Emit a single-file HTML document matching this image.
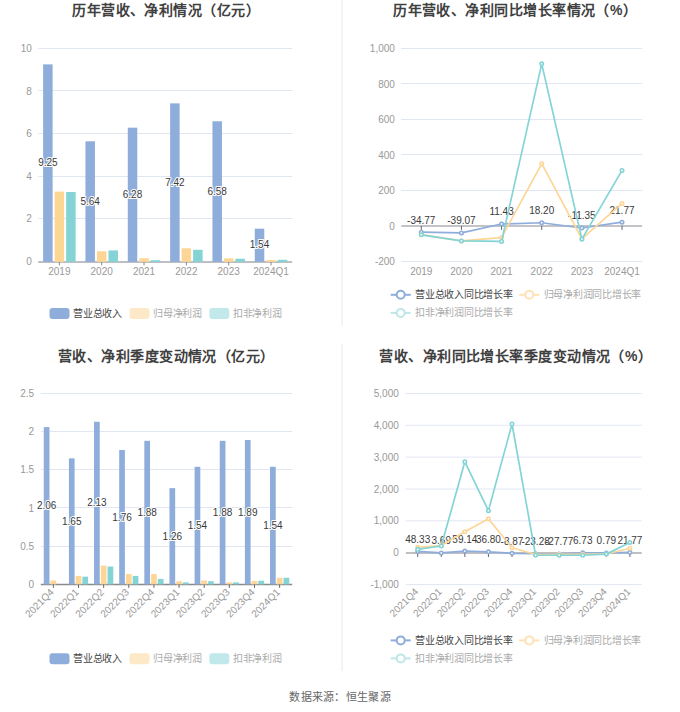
<!DOCTYPE html>
<html lang="zh-CN"><head><meta charset="utf-8"><title>chart</title>
<style>
html,body{margin:0;padding:0;background:#fff;}
body{width:680px;height:712px;overflow:hidden;font-family:"Liberation Sans", sans-serif;}
svg{display:block;font-family:"Liberation Sans", sans-serif;}
</style></head>
<body>
<svg width="680" height="712" viewBox="0 0 680 712">
<text x="166.10" y="15.40" font-size="14" fill="#404040" text-anchor="middle" font-weight="bold" letter-spacing="0.45">历年营收、净利情况（亿元）</text>
<text x="515.20" y="15.40" font-size="14" fill="#404040" text-anchor="middle" font-weight="bold" letter-spacing="0.45">历年营收、净利同比增长率情况（%）</text>
<text x="166.30" y="361.00" font-size="14" fill="#404040" text-anchor="middle" font-weight="bold" letter-spacing="0.45">营收、净利季度变动情况（亿元）</text>
<text x="515.80" y="361.00" font-size="14" fill="#404040" text-anchor="middle" font-weight="bold" letter-spacing="0.45">营收、净利同比增长率季度变动情况（%）</text>
<rect x="341" y="0" width="2" height="326" fill="#f4f4f4"/>
<rect x="341" y="344" width="2" height="327" fill="#f4f4f4"/>
<line x1="38.20" y1="48.50" x2="292.20" y2="48.50" stroke="#e1e6f3" stroke-width="1"/>
<line x1="38.20" y1="90.50" x2="292.20" y2="90.50" stroke="#e1e6f3" stroke-width="1"/>
<line x1="38.20" y1="133.50" x2="292.20" y2="133.50" stroke="#e1e6f3" stroke-width="1"/>
<line x1="38.20" y1="176.50" x2="292.20" y2="176.50" stroke="#e1e6f3" stroke-width="1"/>
<line x1="38.20" y1="218.50" x2="292.20" y2="218.50" stroke="#e1e6f3" stroke-width="1"/>
<text x="31.80" y="52.00" font-size="10" fill="#999999" text-anchor="end" font-weight="normal" >10</text>
<text x="31.80" y="94.60" font-size="10" fill="#999999" text-anchor="end" font-weight="normal" >8</text>
<text x="31.80" y="137.10" font-size="10" fill="#999999" text-anchor="end" font-weight="normal" >6</text>
<text x="31.80" y="179.70" font-size="10" fill="#999999" text-anchor="end" font-weight="normal" >4</text>
<text x="31.80" y="222.20" font-size="10" fill="#999999" text-anchor="end" font-weight="normal" >2</text>
<text x="31.80" y="264.80" font-size="10" fill="#999999" text-anchor="end" font-weight="normal" >0</text>
<line x1="38.20" y1="261.90" x2="292.20" y2="261.90" stroke="#bfbfc3" stroke-width="2"/>
<rect x="43.12" y="64.38" width="9.50" height="197.52" fill="#8eaddb"/>
<rect x="54.62" y="191.60" width="9.50" height="70.30" fill="#fdd696"/>
<rect x="66.12" y="192.03" width="9.50" height="69.87" fill="#84d4d6"/>
<rect x="85.45" y="141.31" width="9.50" height="120.59" fill="#8eaddb"/>
<rect x="96.95" y="251.27" width="9.50" height="10.63" fill="#fdd696"/>
<rect x="108.45" y="250.42" width="9.50" height="11.48" fill="#84d4d6"/>
<rect x="127.78" y="127.67" width="9.50" height="134.23" fill="#8eaddb"/>
<rect x="139.28" y="258.30" width="9.50" height="3.60" fill="#fdd696"/>
<rect x="150.78" y="260.22" width="9.50" height="1.68" fill="#84d4d6"/>
<rect x="170.12" y="103.38" width="9.50" height="158.52" fill="#8eaddb"/>
<rect x="181.62" y="248.29" width="9.50" height="13.61" fill="#fdd696"/>
<rect x="193.12" y="249.78" width="9.50" height="12.12" fill="#84d4d6"/>
<rect x="212.45" y="121.28" width="9.50" height="140.62" fill="#8eaddb"/>
<rect x="223.95" y="258.30" width="9.50" height="3.60" fill="#fdd696"/>
<rect x="235.45" y="258.73" width="9.50" height="3.17" fill="#84d4d6"/>
<rect x="254.78" y="228.68" width="9.50" height="33.22" fill="#8eaddb"/>
<rect x="266.28" y="260.01" width="9.50" height="1.89" fill="#fdd696"/>
<rect x="277.78" y="259.80" width="9.50" height="2.10" fill="#84d4d6"/>
<line x1="59.37" y1="261.90" x2="59.37" y2="265.40" stroke="#8a8a8a" stroke-width="1"/>
<line x1="101.70" y1="261.90" x2="101.70" y2="265.40" stroke="#8a8a8a" stroke-width="1"/>
<line x1="144.03" y1="261.90" x2="144.03" y2="265.40" stroke="#8a8a8a" stroke-width="1"/>
<line x1="186.37" y1="261.90" x2="186.37" y2="265.40" stroke="#8a8a8a" stroke-width="1"/>
<line x1="228.70" y1="261.90" x2="228.70" y2="265.40" stroke="#8a8a8a" stroke-width="1"/>
<line x1="271.03" y1="261.90" x2="271.03" y2="265.40" stroke="#8a8a8a" stroke-width="1"/>
<text x="47.87" y="166.34" font-size="10" fill="#3a3a3a" text-anchor="middle" stroke="#fff" stroke-width="2" paint-order="stroke" stroke-linejoin="round">9.25</text>
<text x="90.20" y="204.81" font-size="10" fill="#3a3a3a" text-anchor="middle" stroke="#fff" stroke-width="2" paint-order="stroke" stroke-linejoin="round">5.64</text>
<text x="132.53" y="197.99" font-size="10" fill="#3a3a3a" text-anchor="middle" stroke="#fff" stroke-width="2" paint-order="stroke" stroke-linejoin="round">6.28</text>
<text x="174.87" y="185.84" font-size="10" fill="#3a3a3a" text-anchor="middle" stroke="#fff" stroke-width="2" paint-order="stroke" stroke-linejoin="round">7.42</text>
<text x="217.20" y="194.79" font-size="10" fill="#3a3a3a" text-anchor="middle" stroke="#fff" stroke-width="2" paint-order="stroke" stroke-linejoin="round">6.58</text>
<text x="259.53" y="248.49" font-size="10" fill="#3a3a3a" text-anchor="middle" stroke="#fff" stroke-width="2" paint-order="stroke" stroke-linejoin="round">1.54</text>
<text x="59.37" y="275.00" font-size="10" fill="#999999" text-anchor="middle" font-weight="normal" >2019</text>
<text x="101.70" y="275.00" font-size="10" fill="#999999" text-anchor="middle" font-weight="normal" >2020</text>
<text x="144.03" y="275.00" font-size="10" fill="#999999" text-anchor="middle" font-weight="normal" >2021</text>
<text x="186.37" y="275.00" font-size="10" fill="#999999" text-anchor="middle" font-weight="normal" >2022</text>
<text x="228.70" y="275.00" font-size="10" fill="#999999" text-anchor="middle" font-weight="normal" >2023</text>
<text x="271.03" y="275.00" font-size="10" fill="#999999" text-anchor="middle" font-weight="normal" >2024Q1</text>
<line x1="401.20" y1="48.50" x2="642.10" y2="48.50" stroke="#e1e6f3" stroke-width="1"/>
<line x1="401.20" y1="83.50" x2="642.10" y2="83.50" stroke="#e1e6f3" stroke-width="1"/>
<line x1="401.20" y1="119.50" x2="642.10" y2="119.50" stroke="#e1e6f3" stroke-width="1"/>
<line x1="401.20" y1="154.50" x2="642.10" y2="154.50" stroke="#e1e6f3" stroke-width="1"/>
<line x1="401.20" y1="190.50" x2="642.10" y2="190.50" stroke="#e1e6f3" stroke-width="1"/>
<line x1="401.20" y1="261.50" x2="642.10" y2="261.50" stroke="#e1e6f3" stroke-width="1"/>
<text x="394.90" y="52.00" font-size="10" fill="#999999" text-anchor="end" font-weight="normal" >1,000</text>
<text x="394.90" y="87.50" font-size="10" fill="#999999" text-anchor="end" font-weight="normal" >800</text>
<text x="394.90" y="123.00" font-size="10" fill="#999999" text-anchor="end" font-weight="normal" >600</text>
<text x="394.90" y="158.50" font-size="10" fill="#999999" text-anchor="end" font-weight="normal" >400</text>
<text x="394.90" y="194.10" font-size="10" fill="#999999" text-anchor="end" font-weight="normal" >200</text>
<text x="394.90" y="229.60" font-size="10" fill="#999999" text-anchor="end" font-weight="normal" >0</text>
<text x="394.90" y="265.20" font-size="10" fill="#999999" text-anchor="end" font-weight="normal" >-200</text>
<line x1="401.20" y1="225.90" x2="642.10" y2="225.90" stroke="#c3c3c8" stroke-width="2"/>
<line x1="421.27" y1="225.90" x2="421.27" y2="229.90" stroke="#666" stroke-width="1"/>
<line x1="461.43" y1="225.90" x2="461.43" y2="229.90" stroke="#666" stroke-width="1"/>
<line x1="501.57" y1="225.90" x2="501.57" y2="229.90" stroke="#666" stroke-width="1"/>
<line x1="541.73" y1="225.90" x2="541.73" y2="229.90" stroke="#666" stroke-width="1"/>
<line x1="581.88" y1="225.90" x2="581.88" y2="229.90" stroke="#666" stroke-width="1"/>
<line x1="622.03" y1="225.90" x2="622.03" y2="229.90" stroke="#666" stroke-width="1"/>
<polyline points="421.27,232.18 461.43,232.94 501.57,223.97 541.73,222.77 581.88,228.02 622.03,222.13" fill="none" stroke="#8eaddb" stroke-width="1.7" stroke-linejoin="round"/>
<circle cx="421.27" cy="232.18" r="1.7" fill="#fff" stroke="#8eaddb" stroke-width="1.6"/>
<circle cx="461.43" cy="232.94" r="1.7" fill="#fff" stroke="#8eaddb" stroke-width="1.6"/>
<circle cx="501.57" cy="223.97" r="1.7" fill="#fff" stroke="#8eaddb" stroke-width="1.6"/>
<circle cx="541.73" cy="222.77" r="1.7" fill="#fff" stroke="#8eaddb" stroke-width="1.6"/>
<circle cx="581.88" cy="228.02" r="1.7" fill="#fff" stroke="#8eaddb" stroke-width="1.6"/>
<circle cx="622.03" cy="222.13" r="1.7" fill="#fff" stroke="#8eaddb" stroke-width="1.6"/>
<text x="421.27" y="223.58" font-size="10" fill="#3a3a3a" text-anchor="middle">-34.77</text>
<text x="461.43" y="224.34" font-size="10" fill="#3a3a3a" text-anchor="middle">-39.07</text>
<text x="501.57" y="215.37" font-size="10" fill="#3a3a3a" text-anchor="middle">11.43</text>
<text x="541.73" y="214.17" font-size="10" fill="#3a3a3a" text-anchor="middle">18.20</text>
<text x="581.88" y="219.42" font-size="10" fill="#3a3a3a" text-anchor="middle">-11.35</text>
<text x="622.03" y="213.53" font-size="10" fill="#3a3a3a" text-anchor="middle">21.77</text>
<polyline points="421.27,234.70 461.43,240.92 501.57,237.54 541.73,163.66 581.88,238.79 622.03,203.44" fill="none" stroke="#fdd696" stroke-width="1.7" stroke-linejoin="round"/>
<circle cx="421.27" cy="234.70" r="1.7" fill="#fff" stroke="#fdd696" stroke-width="1.6"/>
<circle cx="461.43" cy="240.92" r="1.7" fill="#fff" stroke="#fdd696" stroke-width="1.6"/>
<circle cx="501.57" cy="237.54" r="1.7" fill="#fff" stroke="#fdd696" stroke-width="1.6"/>
<circle cx="541.73" cy="163.66" r="1.7" fill="#fff" stroke="#fdd696" stroke-width="1.6"/>
<circle cx="581.88" cy="238.79" r="1.7" fill="#fff" stroke="#fdd696" stroke-width="1.6"/>
<circle cx="622.03" cy="203.44" r="1.7" fill="#fff" stroke="#fdd696" stroke-width="1.6"/>
<polyline points="421.27,234.79 461.43,240.92 501.57,241.45 541.73,63.85 581.88,239.14 622.03,170.41" fill="none" stroke="#84d4d6" stroke-width="1.7" stroke-linejoin="round"/>
<circle cx="421.27" cy="234.79" r="1.7" fill="#fff" stroke="#84d4d6" stroke-width="1.6"/>
<circle cx="461.43" cy="240.92" r="1.7" fill="#fff" stroke="#84d4d6" stroke-width="1.6"/>
<circle cx="501.57" cy="241.45" r="1.7" fill="#fff" stroke="#84d4d6" stroke-width="1.6"/>
<circle cx="541.73" cy="63.85" r="1.7" fill="#fff" stroke="#84d4d6" stroke-width="1.6"/>
<circle cx="581.88" cy="239.14" r="1.7" fill="#fff" stroke="#84d4d6" stroke-width="1.6"/>
<circle cx="622.03" cy="170.41" r="1.7" fill="#fff" stroke="#84d4d6" stroke-width="1.6"/>
<text x="421.27" y="274.90" font-size="10" fill="#999999" text-anchor="middle" font-weight="normal" >2019</text>
<text x="461.43" y="274.90" font-size="10" fill="#999999" text-anchor="middle" font-weight="normal" >2020</text>
<text x="501.57" y="274.90" font-size="10" fill="#999999" text-anchor="middle" font-weight="normal" >2021</text>
<text x="541.73" y="274.90" font-size="10" fill="#999999" text-anchor="middle" font-weight="normal" >2022</text>
<text x="581.88" y="274.90" font-size="10" fill="#999999" text-anchor="middle" font-weight="normal" >2023</text>
<text x="622.03" y="274.90" font-size="10" fill="#999999" text-anchor="middle" font-weight="normal" >2024Q1</text>
<line x1="40.80" y1="393.50" x2="292.20" y2="393.50" stroke="#e1e6f3" stroke-width="1"/>
<line x1="40.80" y1="431.50" x2="292.20" y2="431.50" stroke="#e1e6f3" stroke-width="1"/>
<line x1="40.80" y1="469.50" x2="292.20" y2="469.50" stroke="#e1e6f3" stroke-width="1"/>
<line x1="40.80" y1="507.50" x2="292.20" y2="507.50" stroke="#e1e6f3" stroke-width="1"/>
<line x1="40.80" y1="546.50" x2="292.20" y2="546.50" stroke="#e1e6f3" stroke-width="1"/>
<text x="34.10" y="397.10" font-size="10" fill="#999999" text-anchor="end" font-weight="normal" >2.5</text>
<text x="34.10" y="435.20" font-size="10" fill="#999999" text-anchor="end" font-weight="normal" >2</text>
<text x="34.10" y="473.30" font-size="10" fill="#999999" text-anchor="end" font-weight="normal" >1.5</text>
<text x="34.10" y="511.50" font-size="10" fill="#999999" text-anchor="end" font-weight="normal" >1</text>
<text x="34.10" y="549.70" font-size="10" fill="#999999" text-anchor="end" font-weight="normal" >0.5</text>
<text x="34.10" y="587.90" font-size="10" fill="#999999" text-anchor="end" font-weight="normal" >0</text>
<line x1="40.80" y1="584.40" x2="292.20" y2="584.40" stroke="#8a8a8a" stroke-width="1.5"/>
<rect x="43.77" y="427.08" width="5.70" height="157.32" fill="#8eaddb"/>
<rect x="50.52" y="580.48" width="5.70" height="3.92" fill="#fdd696"/>
<rect x="68.91" y="458.37" width="5.70" height="126.03" fill="#8eaddb"/>
<rect x="75.66" y="575.90" width="5.70" height="8.50" fill="#fdd696"/>
<rect x="82.41" y="576.67" width="5.70" height="7.73" fill="#84d4d6"/>
<rect x="94.05" y="421.74" width="5.70" height="162.66" fill="#8eaddb"/>
<rect x="100.80" y="565.60" width="5.70" height="18.80" fill="#fdd696"/>
<rect x="107.55" y="566.52" width="5.70" height="17.88" fill="#84d4d6"/>
<rect x="119.19" y="449.98" width="5.70" height="134.42" fill="#8eaddb"/>
<rect x="125.94" y="574.07" width="5.70" height="10.33" fill="#fdd696"/>
<rect x="132.69" y="575.90" width="5.70" height="8.50" fill="#84d4d6"/>
<rect x="144.33" y="440.82" width="5.70" height="143.58" fill="#8eaddb"/>
<rect x="151.08" y="574.07" width="5.70" height="10.33" fill="#fdd696"/>
<rect x="157.83" y="578.88" width="5.70" height="5.52" fill="#84d4d6"/>
<rect x="169.47" y="488.14" width="5.70" height="96.26" fill="#8eaddb"/>
<rect x="176.22" y="581.25" width="5.70" height="3.15" fill="#fdd696"/>
<rect x="182.97" y="582.39" width="5.70" height="2.01" fill="#84d4d6"/>
<rect x="194.61" y="466.77" width="5.70" height="117.63" fill="#8eaddb"/>
<rect x="201.36" y="580.48" width="5.70" height="3.92" fill="#fdd696"/>
<rect x="208.11" y="581.25" width="5.70" height="3.15" fill="#84d4d6"/>
<rect x="219.75" y="440.82" width="5.70" height="143.58" fill="#8eaddb"/>
<rect x="226.50" y="582.39" width="5.70" height="2.01" fill="#fdd696"/>
<rect x="233.25" y="582.39" width="5.70" height="2.01" fill="#84d4d6"/>
<rect x="244.89" y="440.06" width="5.70" height="144.34" fill="#8eaddb"/>
<rect x="251.64" y="580.94" width="5.70" height="3.46" fill="#fdd696"/>
<rect x="258.39" y="580.71" width="5.70" height="3.69" fill="#84d4d6"/>
<rect x="270.03" y="466.77" width="5.70" height="117.63" fill="#8eaddb"/>
<rect x="276.78" y="577.81" width="5.70" height="6.59" fill="#fdd696"/>
<rect x="283.53" y="577.81" width="5.70" height="6.59" fill="#84d4d6"/>
<line x1="53.37" y1="584.40" x2="53.37" y2="587.90" stroke="#666" stroke-width="1"/>
<line x1="78.51" y1="584.40" x2="78.51" y2="587.90" stroke="#666" stroke-width="1"/>
<line x1="103.65" y1="584.40" x2="103.65" y2="587.90" stroke="#666" stroke-width="1"/>
<line x1="128.79" y1="584.40" x2="128.79" y2="587.90" stroke="#666" stroke-width="1"/>
<line x1="153.93" y1="584.40" x2="153.93" y2="587.90" stroke="#666" stroke-width="1"/>
<line x1="179.07" y1="584.40" x2="179.07" y2="587.90" stroke="#666" stroke-width="1"/>
<line x1="204.21" y1="584.40" x2="204.21" y2="587.90" stroke="#666" stroke-width="1"/>
<line x1="229.35" y1="584.40" x2="229.35" y2="587.90" stroke="#666" stroke-width="1"/>
<line x1="254.49" y1="584.40" x2="254.49" y2="587.90" stroke="#666" stroke-width="1"/>
<line x1="279.63" y1="584.40" x2="279.63" y2="587.90" stroke="#666" stroke-width="1"/>
<text x="46.62" y="509.09" font-size="10" fill="#3a3a3a" text-anchor="middle" stroke="#fff" stroke-width="2" paint-order="stroke" stroke-linejoin="round">2.06</text>
<text x="71.76" y="524.74" font-size="10" fill="#3a3a3a" text-anchor="middle" stroke="#fff" stroke-width="2" paint-order="stroke" stroke-linejoin="round">1.65</text>
<text x="96.90" y="506.42" font-size="10" fill="#3a3a3a" text-anchor="middle" stroke="#fff" stroke-width="2" paint-order="stroke" stroke-linejoin="round">2.13</text>
<text x="122.04" y="520.54" font-size="10" fill="#3a3a3a" text-anchor="middle" stroke="#fff" stroke-width="2" paint-order="stroke" stroke-linejoin="round">1.76</text>
<text x="147.18" y="515.96" font-size="10" fill="#3a3a3a" text-anchor="middle" stroke="#fff" stroke-width="2" paint-order="stroke" stroke-linejoin="round">1.88</text>
<text x="172.32" y="539.62" font-size="10" fill="#3a3a3a" text-anchor="middle" stroke="#fff" stroke-width="2" paint-order="stroke" stroke-linejoin="round">1.26</text>
<text x="197.46" y="528.93" font-size="10" fill="#3a3a3a" text-anchor="middle" stroke="#fff" stroke-width="2" paint-order="stroke" stroke-linejoin="round">1.54</text>
<text x="222.60" y="515.96" font-size="10" fill="#3a3a3a" text-anchor="middle" stroke="#fff" stroke-width="2" paint-order="stroke" stroke-linejoin="round">1.88</text>
<text x="247.74" y="515.58" font-size="10" fill="#3a3a3a" text-anchor="middle" stroke="#fff" stroke-width="2" paint-order="stroke" stroke-linejoin="round">1.89</text>
<text x="272.88" y="528.93" font-size="10" fill="#3a3a3a" text-anchor="middle" stroke="#fff" stroke-width="2" paint-order="stroke" stroke-linejoin="round">1.54</text>
<text x="0" y="0" font-size="10" fill="#999999" text-anchor="end" transform="translate(54.37,592.90) rotate(-45)">2021Q4</text>
<text x="0" y="0" font-size="10" fill="#999999" text-anchor="end" transform="translate(79.51,592.90) rotate(-45)">2022Q1</text>
<text x="0" y="0" font-size="10" fill="#999999" text-anchor="end" transform="translate(104.65,592.90) rotate(-45)">2022Q2</text>
<text x="0" y="0" font-size="10" fill="#999999" text-anchor="end" transform="translate(129.79,592.90) rotate(-45)">2022Q3</text>
<text x="0" y="0" font-size="10" fill="#999999" text-anchor="end" transform="translate(154.93,592.90) rotate(-45)">2022Q4</text>
<text x="0" y="0" font-size="10" fill="#999999" text-anchor="end" transform="translate(180.07,592.90) rotate(-45)">2023Q1</text>
<text x="0" y="0" font-size="10" fill="#999999" text-anchor="end" transform="translate(205.21,592.90) rotate(-45)">2023Q2</text>
<text x="0" y="0" font-size="10" fill="#999999" text-anchor="end" transform="translate(230.35,592.90) rotate(-45)">2023Q3</text>
<text x="0" y="0" font-size="10" fill="#999999" text-anchor="end" transform="translate(255.49,592.90) rotate(-45)">2023Q4</text>
<text x="0" y="0" font-size="10" fill="#999999" text-anchor="end" transform="translate(280.63,592.90) rotate(-45)">2024Q1</text>
<line x1="405.90" y1="393.50" x2="641.70" y2="393.50" stroke="#e1e6f3" stroke-width="1"/>
<line x1="405.90" y1="425.30" x2="641.70" y2="425.30" stroke="#e1e6f3" stroke-width="1"/>
<line x1="405.90" y1="457.10" x2="641.70" y2="457.10" stroke="#e1e6f3" stroke-width="1"/>
<line x1="405.90" y1="489.00" x2="641.70" y2="489.00" stroke="#e1e6f3" stroke-width="1"/>
<line x1="405.90" y1="520.80" x2="641.70" y2="520.80" stroke="#e1e6f3" stroke-width="1"/>
<line x1="405.90" y1="584.60" x2="641.70" y2="584.60" stroke="#e1e6f3" stroke-width="1"/>
<text x="398.80" y="397.10" font-size="10" fill="#999999" text-anchor="end" font-weight="normal" >5,000</text>
<text x="398.80" y="428.90" font-size="10" fill="#999999" text-anchor="end" font-weight="normal" >4,000</text>
<text x="398.80" y="460.70" font-size="10" fill="#999999" text-anchor="end" font-weight="normal" >3,000</text>
<text x="398.80" y="492.60" font-size="10" fill="#999999" text-anchor="end" font-weight="normal" >2,000</text>
<text x="398.80" y="524.40" font-size="10" fill="#999999" text-anchor="end" font-weight="normal" >1,000</text>
<text x="398.80" y="556.40" font-size="10" fill="#999999" text-anchor="end" font-weight="normal" >0</text>
<text x="398.80" y="588.20" font-size="10" fill="#999999" text-anchor="end" font-weight="normal" >-1,000</text>
<line x1="405.90" y1="553.00" x2="641.70" y2="553.00" stroke="#aaaaae" stroke-width="1.6"/>
<line x1="417.69" y1="553.00" x2="417.69" y2="557.00" stroke="#666" stroke-width="1"/>
<line x1="441.27" y1="553.00" x2="441.27" y2="557.00" stroke="#666" stroke-width="1"/>
<line x1="464.85" y1="553.00" x2="464.85" y2="557.00" stroke="#666" stroke-width="1"/>
<line x1="488.43" y1="553.00" x2="488.43" y2="557.00" stroke="#666" stroke-width="1"/>
<line x1="512.01" y1="553.00" x2="512.01" y2="557.00" stroke="#666" stroke-width="1"/>
<line x1="535.59" y1="553.00" x2="535.59" y2="557.00" stroke="#666" stroke-width="1"/>
<line x1="559.17" y1="553.00" x2="559.17" y2="557.00" stroke="#666" stroke-width="1"/>
<line x1="582.75" y1="553.00" x2="582.75" y2="557.00" stroke="#666" stroke-width="1"/>
<line x1="606.33" y1="553.00" x2="606.33" y2="557.00" stroke="#666" stroke-width="1"/>
<line x1="629.91" y1="553.00" x2="629.91" y2="557.00" stroke="#666" stroke-width="1"/>
<polyline points="417.69,551.46 441.27,552.88 464.85,551.11 488.43,551.83 512.01,553.28 535.59,553.74 559.17,553.89 582.75,552.79 606.33,552.97 629.91,552.31" fill="none" stroke="#8eaddb" stroke-width="1.7" stroke-linejoin="round"/>
<circle cx="417.69" cy="551.46" r="1.7" fill="#fff" stroke="#8eaddb" stroke-width="1.6"/>
<circle cx="441.27" cy="552.88" r="1.7" fill="#fff" stroke="#8eaddb" stroke-width="1.6"/>
<circle cx="464.85" cy="551.11" r="1.7" fill="#fff" stroke="#8eaddb" stroke-width="1.6"/>
<circle cx="488.43" cy="551.83" r="1.7" fill="#fff" stroke="#8eaddb" stroke-width="1.6"/>
<circle cx="512.01" cy="553.28" r="1.7" fill="#fff" stroke="#8eaddb" stroke-width="1.6"/>
<circle cx="535.59" cy="553.74" r="1.7" fill="#fff" stroke="#8eaddb" stroke-width="1.6"/>
<circle cx="559.17" cy="553.89" r="1.7" fill="#fff" stroke="#8eaddb" stroke-width="1.6"/>
<circle cx="582.75" cy="552.79" r="1.7" fill="#fff" stroke="#8eaddb" stroke-width="1.6"/>
<circle cx="606.33" cy="552.97" r="1.7" fill="#fff" stroke="#8eaddb" stroke-width="1.6"/>
<circle cx="629.91" cy="552.31" r="1.7" fill="#fff" stroke="#8eaddb" stroke-width="1.6"/>
<text x="417.69" y="542.86" font-size="10" fill="#3a3a3a" text-anchor="middle">48.33</text>
<text x="441.27" y="544.28" font-size="10" fill="#3a3a3a" text-anchor="middle">3.69</text>
<text x="464.85" y="542.51" font-size="10" fill="#3a3a3a" text-anchor="middle">59.14</text>
<text x="488.43" y="543.23" font-size="10" fill="#3a3a3a" text-anchor="middle">36.80</text>
<text x="512.01" y="544.68" font-size="10" fill="#3a3a3a" text-anchor="middle">-8.87</text>
<text x="535.59" y="545.14" font-size="10" fill="#3a3a3a" text-anchor="middle">-23.28</text>
<text x="559.17" y="545.29" font-size="10" fill="#3a3a3a" text-anchor="middle">-27.77</text>
<text x="582.75" y="544.19" font-size="10" fill="#3a3a3a" text-anchor="middle">6.73</text>
<text x="606.33" y="544.37" font-size="10" fill="#3a3a3a" text-anchor="middle">0.79</text>
<text x="629.91" y="543.71" font-size="10" fill="#3a3a3a" text-anchor="middle">21.77</text>
<polyline points="417.69,547.32 441.27,545.60 464.85,531.79 488.43,518.84 512.01,547.70 535.59,554.50 559.17,554.28 582.75,554.28 606.33,553.96 629.91,548.22" fill="none" stroke="#fdd696" stroke-width="1.7" stroke-linejoin="round"/>
<circle cx="417.69" cy="547.32" r="1.7" fill="#fff" stroke="#fdd696" stroke-width="1.6"/>
<circle cx="441.27" cy="545.60" r="1.7" fill="#fff" stroke="#fdd696" stroke-width="1.6"/>
<circle cx="464.85" cy="531.79" r="1.7" fill="#fff" stroke="#fdd696" stroke-width="1.6"/>
<circle cx="488.43" cy="518.84" r="1.7" fill="#fff" stroke="#fdd696" stroke-width="1.6"/>
<circle cx="512.01" cy="547.70" r="1.7" fill="#fff" stroke="#fdd696" stroke-width="1.6"/>
<circle cx="535.59" cy="554.50" r="1.7" fill="#fff" stroke="#fdd696" stroke-width="1.6"/>
<circle cx="559.17" cy="554.28" r="1.7" fill="#fff" stroke="#fdd696" stroke-width="1.6"/>
<circle cx="582.75" cy="554.28" r="1.7" fill="#fff" stroke="#fdd696" stroke-width="1.6"/>
<circle cx="606.33" cy="553.96" r="1.7" fill="#fff" stroke="#fdd696" stroke-width="1.6"/>
<circle cx="629.91" cy="548.22" r="1.7" fill="#fff" stroke="#fdd696" stroke-width="1.6"/>
<polyline points="417.69,549.33 441.27,545.98 464.85,461.77 488.43,510.64 512.01,424.00 535.59,555.23 559.17,555.23 582.75,555.23 606.33,554.12 629.91,542.47" fill="none" stroke="#84d4d6" stroke-width="1.7" stroke-linejoin="round"/>
<circle cx="417.69" cy="549.33" r="1.7" fill="#fff" stroke="#84d4d6" stroke-width="1.6"/>
<circle cx="441.27" cy="545.98" r="1.7" fill="#fff" stroke="#84d4d6" stroke-width="1.6"/>
<circle cx="464.85" cy="461.77" r="1.7" fill="#fff" stroke="#84d4d6" stroke-width="1.6"/>
<circle cx="488.43" cy="510.64" r="1.7" fill="#fff" stroke="#84d4d6" stroke-width="1.6"/>
<circle cx="512.01" cy="424.00" r="1.7" fill="#fff" stroke="#84d4d6" stroke-width="1.6"/>
<circle cx="535.59" cy="555.23" r="1.7" fill="#fff" stroke="#84d4d6" stroke-width="1.6"/>
<circle cx="559.17" cy="555.23" r="1.7" fill="#fff" stroke="#84d4d6" stroke-width="1.6"/>
<circle cx="582.75" cy="555.23" r="1.7" fill="#fff" stroke="#84d4d6" stroke-width="1.6"/>
<circle cx="606.33" cy="554.12" r="1.7" fill="#fff" stroke="#84d4d6" stroke-width="1.6"/>
<circle cx="629.91" cy="542.47" r="1.7" fill="#fff" stroke="#84d4d6" stroke-width="1.6"/>
<text x="0" y="0" font-size="10" fill="#999999" text-anchor="end" transform="translate(418.89,592.30) rotate(-45)">2021Q4</text>
<text x="0" y="0" font-size="10" fill="#999999" text-anchor="end" transform="translate(442.47,592.30) rotate(-45)">2022Q1</text>
<text x="0" y="0" font-size="10" fill="#999999" text-anchor="end" transform="translate(466.05,592.30) rotate(-45)">2022Q2</text>
<text x="0" y="0" font-size="10" fill="#999999" text-anchor="end" transform="translate(489.63,592.30) rotate(-45)">2022Q3</text>
<text x="0" y="0" font-size="10" fill="#999999" text-anchor="end" transform="translate(513.21,592.30) rotate(-45)">2022Q4</text>
<text x="0" y="0" font-size="10" fill="#999999" text-anchor="end" transform="translate(536.79,592.30) rotate(-45)">2023Q1</text>
<text x="0" y="0" font-size="10" fill="#999999" text-anchor="end" transform="translate(560.37,592.30) rotate(-45)">2023Q2</text>
<text x="0" y="0" font-size="10" fill="#999999" text-anchor="end" transform="translate(583.95,592.30) rotate(-45)">2023Q3</text>
<text x="0" y="0" font-size="10" fill="#999999" text-anchor="end" transform="translate(607.53,592.30) rotate(-45)">2023Q4</text>
<text x="0" y="0" font-size="10" fill="#999999" text-anchor="end" transform="translate(631.11,592.30) rotate(-45)">2024Q1</text>
<rect x="49.50" y="307.90" width="20" height="11" rx="3" fill="#8eaddb"/>
<text x="73.10" y="316.90" font-size="10" fill="#444444" text-anchor="start" font-weight="normal" letter-spacing="-0.25">营业总收入</text>
<rect x="129.50" y="307.90" width="20" height="11" rx="3" fill="#fde9c8"/>
<text x="153.10" y="316.90" font-size="10" fill="#aaaaaa" text-anchor="start" font-weight="normal" letter-spacing="-0.25">归母净利润</text>
<rect x="209.30" y="307.90" width="20" height="11" rx="3" fill="#c1e8ea"/>
<text x="232.90" y="316.90" font-size="10" fill="#aaaaaa" text-anchor="start" font-weight="normal" letter-spacing="-0.25">扣非净利润</text>
<rect x="49.50" y="653.30" width="20" height="11" rx="3" fill="#8eaddb"/>
<text x="73.10" y="662.30" font-size="10" fill="#444444" text-anchor="start" font-weight="normal" letter-spacing="-0.25">营业总收入</text>
<rect x="129.50" y="653.30" width="20" height="11" rx="3" fill="#fde9c8"/>
<text x="153.10" y="662.30" font-size="10" fill="#aaaaaa" text-anchor="start" font-weight="normal" letter-spacing="-0.25">归母净利润</text>
<rect x="209.30" y="653.30" width="20" height="11" rx="3" fill="#c1e8ea"/>
<text x="232.90" y="662.30" font-size="10" fill="#aaaaaa" text-anchor="start" font-weight="normal" letter-spacing="-0.25">扣非净利润</text>
<line x1="390.70" y1="294.80" x2="410.70" y2="294.80" stroke="#8eaddb" stroke-width="2"/>
<circle cx="400.70" cy="294.80" r="4" fill="#fff" stroke="#8eaddb" stroke-width="2"/>
<text x="415.00" y="297.90" font-size="10" fill="#444444" text-anchor="start" font-weight="normal" letter-spacing="-0.25">营业总收入同比增长率</text>
<line x1="519.30" y1="294.80" x2="539.30" y2="294.80" stroke="#fde2b4" stroke-width="2"/>
<circle cx="529.30" cy="294.80" r="4" fill="#fff" stroke="#fde2b4" stroke-width="2"/>
<text x="543.60" y="297.90" font-size="10" fill="#aaaaaa" text-anchor="start" font-weight="normal" letter-spacing="-0.25">归母净利润同比增长率</text>
<line x1="390.70" y1="312.90" x2="410.70" y2="312.90" stroke="#bfe7e8" stroke-width="2"/>
<circle cx="400.70" cy="312.90" r="4" fill="#fff" stroke="#bfe7e8" stroke-width="2"/>
<text x="415.00" y="316.00" font-size="10" fill="#aaaaaa" text-anchor="start" font-weight="normal" letter-spacing="-0.25">扣非净利润同比增长率</text>
<line x1="390.70" y1="640.40" x2="410.70" y2="640.40" stroke="#8eaddb" stroke-width="2"/>
<circle cx="400.70" cy="640.40" r="4" fill="#fff" stroke="#8eaddb" stroke-width="2"/>
<text x="415.00" y="643.50" font-size="10" fill="#444444" text-anchor="start" font-weight="normal" letter-spacing="-0.25">营业总收入同比增长率</text>
<line x1="519.30" y1="640.40" x2="539.30" y2="640.40" stroke="#fde2b4" stroke-width="2"/>
<circle cx="529.30" cy="640.40" r="4" fill="#fff" stroke="#fde2b4" stroke-width="2"/>
<text x="543.60" y="643.50" font-size="10" fill="#aaaaaa" text-anchor="start" font-weight="normal" letter-spacing="-0.25">归母净利润同比增长率</text>
<line x1="390.70" y1="658.40" x2="410.70" y2="658.40" stroke="#bfe7e8" stroke-width="2"/>
<circle cx="400.70" cy="658.40" r="4" fill="#fff" stroke="#bfe7e8" stroke-width="2"/>
<text x="415.00" y="661.50" font-size="10" fill="#aaaaaa" text-anchor="start" font-weight="normal" letter-spacing="-0.25">扣非净利润同比增长率</text>
<text x="340.15" y="701.20" font-size="11" fill="#666666" text-anchor="middle" font-weight="normal" letter-spacing="0.3">数据来源：恒生聚源</text>
</svg>
</body></html>
